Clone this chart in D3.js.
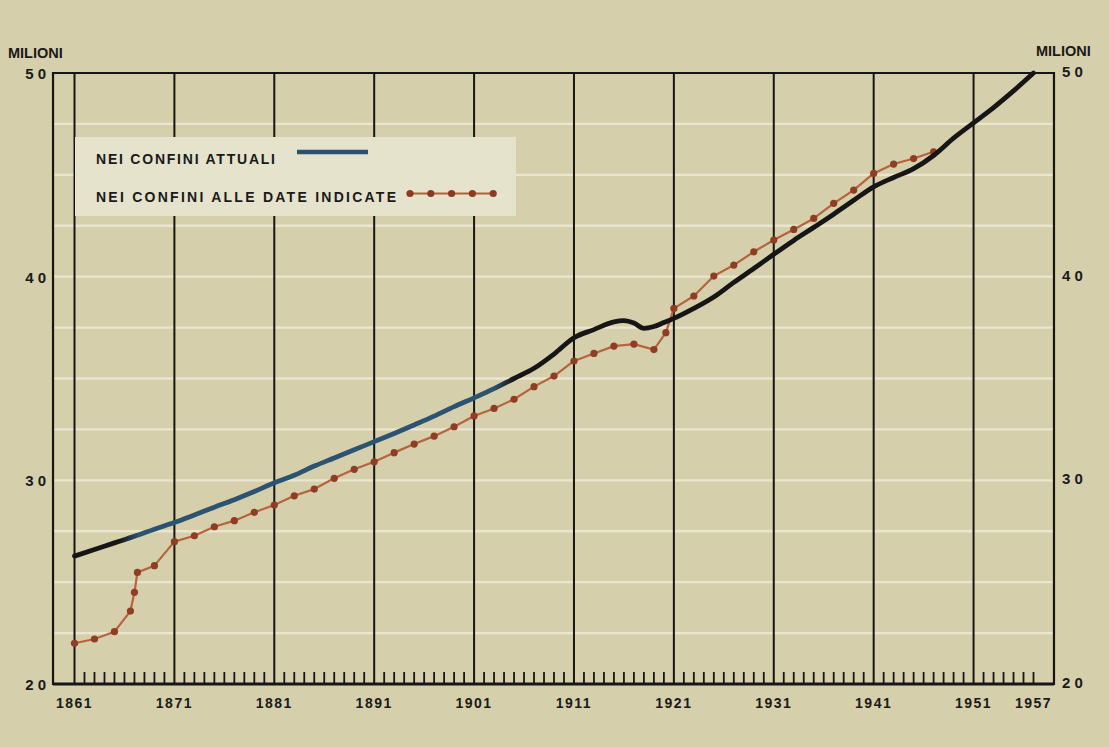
<!DOCTYPE html>
<html>
<head>
<meta charset="utf-8">
<script src="https://cdn.jsdelivr.net/npm/d3@7"></script>
<style>
  html, body { margin: 0; padding: 0; background: #d6cfab; }
  svg { display: block; }
  text { font-family: "Liberation Sans", Arial, sans-serif; fill: #1a1a1a; }
</style>
</head>
<body>
<svg id="chart" width="1109" height="747"></svg>
<script>
// ---- data ----
const currentYears = [1861,1863,1865,1867,1869,1871,1873,1875,1877,1879,1881,1883,1885,1887,1889,1891,1893,1895,1897,1899,1901,1903,1905,1907,1909,1911,1913,1915,1916,1917,1918,1919,1920,1921,1923,1925,1927,1929,1931,1933,1935,1937,1939,1941,1943,1945,1947,1949,1951,1953,1955,1957];
const currentValues = [26.28,26.6,26.93,27.25,27.6,27.93,28.3,28.68,29.05,29.45,29.88,30.25,30.7,31.1,31.5,31.9,32.3,32.72,33.15,33.62,34.05,34.5,35.0,35.5,36.2,37.0,37.4,37.78,37.84,37.72,37.46,37.55,37.75,37.95,38.44,39.0,39.72,40.4,41.1,41.78,42.42,43.07,43.75,44.41,44.87,45.3,45.95,46.8,47.55,48.3,49.12,50.0];

const historicYears = [1861,1863,1865,1866.6,1867,1867.3,1869,1871,1873,1875,1877,1879,1881,1883,1885,1887,1889,1891,1893,1895,1897,1899,1901,1903,1905,1907,1909,1911,1913,1915,1917,1919,1920.2,1921,1923,1925,1927,1929,1931,1933,1935,1937,1939,1941,1943,1945,1947];
const historicValues = [22.0,22.21,22.57,23.58,24.5,25.48,25.81,26.99,27.28,27.72,28.02,28.43,28.79,29.24,29.57,30.1,30.54,30.91,31.36,31.78,32.17,32.63,33.16,33.53,33.98,34.6,35.12,35.86,36.23,36.59,36.69,36.42,37.25,38.44,39.05,40.03,40.57,41.22,41.8,42.32,42.86,43.6,44.25,45.07,45.53,45.8,46.13];

const decadeLabels = ["1861","1871","1881","1891","1901","1911","1921","1931","1941","1951","1957"];
const yTickValues = [20,30,40,50];
const yTickLabels = ["2 0","3 0","4 0","5 0"];
const gridValues = [22.5,25,27.5,30,32.5,35,37.5,40,42.5,45,47.5];
const unitLabel = "MILIONI";
const legendLabels = ["NEI CONFINI ATTUALI", "NEI CONFINI ALLE DATE INDICATE"];

// ---- scales ----
const svg = d3.select("#chart");
const x = d3.scaleLinear().domain([1861, 1957]).range([74.5, 1033.5]);
const y = d3.scaleLinear().domain([20, 50]).range([684, 73]);
const xLeft = 1858.85, xRight = 1959.05;
const X0 = x(xLeft), X1 = x(xRight);

const ink = "#161616";

// light horizontal grid
svg.append("g").selectAll("line").data(gridValues).join("line")
  .attr("x1", X0).attr("x2", X1)
  .attr("y1", d => y(d)).attr("y2", d => y(d))
  .attr("stroke", "#e9e5cf").attr("stroke-width", 2.4);

// decade vertical lines
const decades = d3.range(1861, 1952, 10);
svg.append("g").selectAll("line").data(decades).join("line")
  .attr("x1", d => x(d)).attr("x2", d => x(d))
  .attr("y1", y(50)).attr("y2", y(20))
  .attr("stroke", ink).attr("stroke-width", 2);

// yearly ticks on bottom axis
const minor = d3.range(1862, 1958).filter(d => (d - 1861) % 10 !== 0);
svg.append("g").selectAll("line").data(minor).join("line")
  .attr("x1", d => x(d)).attr("x2", d => x(d))
  .attr("y1", y(20)).attr("y2", y(20) - 12)
  .attr("stroke", ink).attr("stroke-width", 1.8);

// frame
svg.append("path")
  .attr("d", `M${X0},${y(20)} L${X0},${y(50)} L${X1},${y(50)} L${X1},${y(20)} Z`)
  .attr("fill", "none").attr("stroke", ink).attr("stroke-width", 2.2);
svg.append("line").attr("x1", X0).attr("x2", X1).attr("y1", y(20)).attr("y2", y(20))
  .attr("stroke", ink).attr("stroke-width", 3);

// gradient for the "current borders" line (blue / black printing)
const defs = svg.append("defs");
const grad = defs.append("linearGradient").attr("id", "curGrad")
  .attr("gradientUnits", "userSpaceOnUse")
  .attr("x1", x(1861)).attr("x2", x(1957)).attr("y1", 0).attr("y2", 0);
const span = 1957 - 1861;
[[1861, ink],[1865.5, ink],[1867.5, "#2c5472"],[1903, "#2c5472"],[1905, ink],[1957, ink]]
  .forEach(([yr, c]) => grad.append("stop").attr("offset", (yr - 1861) / span).attr("stop-color", c));

// legend box
const lg = svg.append("g");
lg.append("rect").attr("x", 75).attr("y", 137).attr("width", 441).attr("height", 79)
  .attr("fill", "#e5e3cb");
lg.append("text").attr("x", 96).attr("y", 163.5).attr("font-size", 14).attr("font-weight", "bold")
  .attr("textLength", 179).attr("lengthAdjust", "spacing")
  .text(legendLabels[0]);
lg.append("text").attr("x", 96).attr("y", 201.5).attr("font-size", 14).attr("font-weight", "bold")
  .attr("textLength", 300).attr("lengthAdjust", "spacing")
  .text(legendLabels[1]);
lg.append("line").attr("x1", 297).attr("x2", 368).attr("y1", 152).attr("y2", 152)
  .attr("stroke", "#2a5272").attr("stroke-width", 4.5);
lg.append("line").attr("x1", 410).attr("x2", 494).attr("y1", 193.5).attr("y2", 193.5)
  .attr("stroke", "#b0603c").attr("stroke-width", 2);
lg.selectAll("circle").data(d3.range(5)).join("circle")
  .attr("cx", i => 410 + i * 20.8).attr("cy", 193.5).attr("r", 3.6)
  .attr("fill", "#8c3a22");

// historic borders series
const histData = historicYears.map((yr, i) => [yr, historicValues[i]]);
const curData = currentYears.map((yr, i) => [yr, currentValues[i]]);
const line = d3.line().x(d => x(d[0])).y(d => y(d[1]));

svg.append("path").datum(histData).attr("d", line)
  .attr("fill", "none").attr("stroke", "#b5643e").attr("stroke-width", 2.2)
  .attr("stroke-linejoin", "round");
svg.append("g").selectAll("circle").data(histData).join("circle")
  .attr("cx", d => x(d[0])).attr("cy", d => y(d[1])).attr("r", 3.6)
  .attr("fill", "#8f3d24");

// current borders series
svg.append("path").datum(curData).attr("d", d3.line().curve(d3.curveMonotoneX).x(d => x(d[0])).y(d => y(d[1])))
  .attr("fill", "none").attr("stroke", "url(#curGrad)").attr("stroke-width", 4.8)
  .attr("stroke-linejoin", "round").attr("stroke-linecap", "round");

// y labels
const lab = svg.append("g").attr("font-weight", "bold").attr("font-size", 15);
lab.selectAll("text.yl").data(yTickValues).join("text").attr("class", "yl")
  .attr("x", 46).attr("y", d => y(d) + 6).attr("text-anchor", "end")
  .text((d, i) => yTickLabels[i]);
lab.selectAll("text.yr").data(yTickValues).join("text").attr("class", "yr")
  .attr("x", 1062).attr("y", d => y(d) + 4)
  .text((d, i) => yTickLabels[i]);
lab.append("text").attr("x", 8).attr("y", 58).attr("font-size", 14.5).text(unitLabel);
lab.append("text").attr("x", 1036).attr("y", 56).attr("font-size", 14.5).text(unitLabel);

// x labels
lab.selectAll("text.xl").data(decadeLabels).join("text").attr("class", "xl")
  .attr("x", d => x(+d)).attr("y", 708).attr("text-anchor", "middle")
  .attr("font-size", 14).attr("letter-spacing", 1.5)
  .text(d => d);
</script>
</body>
</html>
